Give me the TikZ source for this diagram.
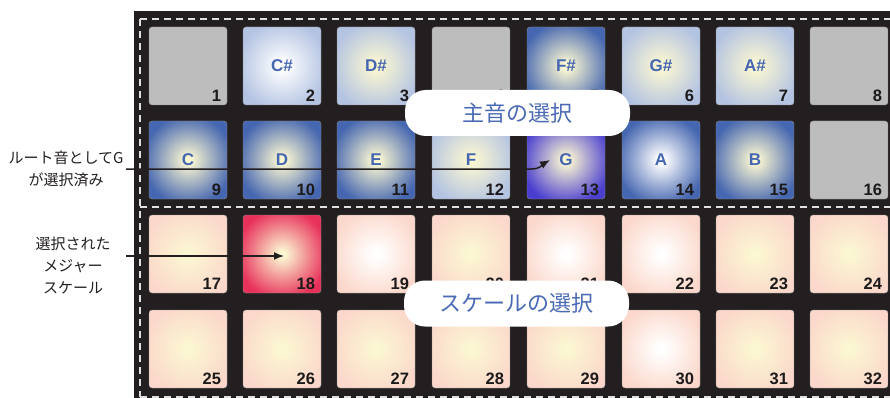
\documentclass[tikz,border=0pt]{standalone}
\usepackage{fontspec}
\setmainfont{Liberation Sans}
\newfontfamily\jp{Noto Sans CJK JP}
\usetikzlibrary{arrows.meta}
\definecolor{bgc}{HTML}{231F20}
\definecolor{padgray}{HTML}{BDBDBD}
\definecolor{lblue}{HTML}{B3C3E2}
\definecolor{dblue}{HTML}{4566B0}
\definecolor{gblue}{HTML}{4A3ECF}
\definecolor{pinkc}{HTML}{FBD8CB}
\definecolor{redc}{HTML}{E8315A}
\definecolor{cyel}{HTML}{FBF7D2}
\definecolor{notec}{HTML}{4566B0}
\definecolor{bubtxt}{HTML}{4A6AB5}
\definecolor{numc}{HTML}{1C1A1B}
\colorlet{glowin}{white}
\colorlet{glowout}{gray}
\pgfdeclareradialshading[glowin,glowout]{glow}{\pgfpointorigin}{color(0bp)=(glowin); color(2bp)=(glowin); color(29bp)=(glowout); color(50bp)=(glowout)}
\tikzset{
  pad/.style={rounded corners=3pt, minimum width=78pt, minimum height=78pt, inner sep=0pt, draw=black!45, line width=0.4pt},
  glowfill/.style 2 args={/utils/exec={\colorlet{glowin}{#1}\colorlet{glowout}{#2}}, shade, shading=glow},
  note/.style={font=\bfseries\fontsize{17}{19}\selectfont, text=notec, inner sep=0pt},
  num/.style={font=\bfseries\fontsize{16.5}{18}\selectfont, text=numc, inner sep=0pt, anchor=base east},
  dashw/.style={draw=white!88!black, line width=1.3pt, dash pattern=on 7pt off 5pt},
  bubble/.style={fill=white, rounded corners=21pt, minimum width=225pt, minimum height=46pt, inner sep=0pt, font=\jp\fontsize{22}{24}\selectfont, text=bubtxt},
  lefttxt/.style={font=\jp\fontsize{15}{22}\selectfont, align=center, text=bgc, inner sep=0pt},
  conn/.style={line width=1.5pt, draw=bgc, -{Latex[length=10pt,width=8pt]}}
}
\begin{document}
\begin{tikzpicture}[x=1pt,y=-1pt]
\useasboundingbox (0,0) rectangle (890,398);
\fill[bgc] (134,11) rectangle (892,400);
\draw[dashw] (140,19) -- (896,19);
\draw[dashw] (140,19) -- (140,397);
\draw[dashw] (140,397) -- (896,397);
\draw[dashw] (140,207) -- (896,207);
\foreach \n/\cx/\cy/\ci/\co/\lab in {
 1/188/66/padgray/padgray/{},
 2/282/66/white/lblue/C\#,
 3/376/66/cyel/lblue/D\#,
 4/471/66/padgray/padgray/{},
 5/566/66/cyel/dblue/F\#,
 6/661/66/cyel/lblue/G\#,
 7/755/66/cyel/lblue/A\#,
 8/849/66/padgray/padgray/{},
 9/188/160/cyel/dblue/C,
 10/282/160/cyel/dblue/D,
 11/376/160/cyel/dblue/E,
 12/471/160/cyel/lblue/F,
 13/566/160/cyel/gblue/G,
 14/661/160/white/dblue/A,
 15/755/160/cyel/dblue/B,
 16/849/160/padgray/padgray/{},
 17/188/254/cyel/pinkc/{},
 18/282/254/cyel/redc/{},
 19/376/254/white/pinkc/{},
 20/471/254/cyel/pinkc/{},
 21/566/254/white/pinkc/{},
 22/661/254/white/pinkc/{},
 23/755/254/cyel/pinkc/{},
 24/849/254/cyel/pinkc/{},
 25/188/349/cyel/pinkc/{},
 26/282/349/cyel/pinkc/{},
 27/376/349/cyel/pinkc/{},
 28/471/349/cyel/pinkc/{},
 29/566/349/cyel/pinkc/{},
 30/661/349/white/pinkc/{},
 31/755/349/cyel/pinkc/{},
 32/849/349/cyel/pinkc/{}}{
 \node[pad, glowfill={\ci}{\co}] (p\n) at (\cx,\cy) {};
 \node[note] (l\n) at (p\n.center) {\lab};
 \node[num] (n\n) at ([xshift=-6pt,yshift=4pt]p\n.south east) {\n};
}
\node[bubble] (b1) at (517.5,113) {主音の選択};
\node[bubble] (b2) at (516.5,303.5) {スケールの選択};
\node[lefttxt] (t1) at (66,169) {ルート音としてG\\が選択済み};
\node[lefttxt] (t2) at (73,265) {選択された\\メジャー\\スケール};
\coordinate (a1s) at (126,169);
\coordinate (a1m) at (531,169);
\coordinate (a1e) at (550,160);
\coordinate (a2s) at (126,256);
\coordinate (a2e) at (284,256);
\draw[conn] (a1s) -- (a1m) .. controls (541,169) and (543,164) .. (a1e);
\draw[conn] (a2s) -- (a2e);
\end{tikzpicture}
\end{document}
